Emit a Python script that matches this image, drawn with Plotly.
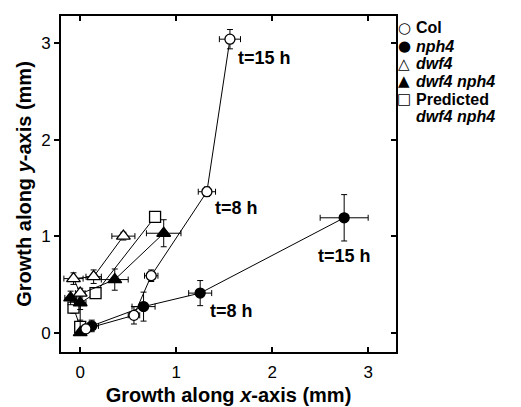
import plotly.graph_objects as go

# ---- data (mm) ----
col_x = [0.06, 0.56, 0.74, 1.32, 1.56]
col_y = [0.04, 0.18, 0.59, 1.46, 3.04]
col_ex = [0.05, 0.06, 0.07, 0.09, 0.11]
col_ey = [0.04, 0.09, 0.06, 0.05, 0.10]

nph4_x = [0.12, 0.66, 1.25, 2.75]
nph4_y = [0.07, 0.27, 0.41, 1.19]
nph4_ex = [0.07, 0.12, 0.12, 0.25]
nph4_ey = [0.06, 0.15, 0.13, 0.24]

dwf4_x = [0.00, -0.07, 0.14, 0.45]
dwf4_y = [0.41, 0.56, 0.58, 1.00]
dwf4_ex = [0.05, 0.10, 0.08, 0.12]
dwf4_ey = [0.05, 0.06, 0.07, 0.04]

dn_x = [0.00, 0.00, -0.10, 0.36, 0.87]
dn_y = [0.00, 0.31, 0.36, 0.55, 1.03]
dn_ex = [0.03, 0.06, 0.06, 0.14, 0.18]
dn_ey = [0.02, 0.07, 0.07, 0.11, 0.14]

pred_x = [0.00, -0.07, 0.16, 0.78]
pred_y = [0.06, 0.26, 0.41, 1.20]
pred_ex = [0.03, 0.04, 0.05, 0.04]
pred_ey = [0.07, 0.06, 0.05, 0.03]

x_ticks = [0, 1, 2, 3]
y_ticks = [0, 1, 2, 3]

labels = [  # (text, x, y)
    ("t=15 h", 1.62, 2.85),
    ("t=8 h", 1.38, 1.29),
    ("t=8 h", 1.33, 0.22),
    ("t=15 h", 2.46, 0.79),
]

legend_items = [("○", "Col"), ("●", "<i>nph4</i>"), ("△", "<i>dwf4</i>"),
                ("▲", "<i>dwf4 nph4</i>"), ("□", "Predicted"), ("", "<i>dwf4 nph4</i>")]

FONT = "Arial, Liberation Sans, sans-serif"
W, H = 521, 407
ML, MR, MT, MB = 61, 125, 16, 55

fig = go.Figure()

def add_series(x, y, ex, ey, symbol, fill, size):
    fig.add_trace(go.Scatter(
        x=x, y=y, mode="lines+markers",
        line=dict(color="black", width=1),
        marker=dict(symbol=symbol, size=size, color=fill,
                    line=dict(color="black", width=1.3)),
        error_x=dict(type="data", array=ex, color="black", thickness=1, width=3),
        error_y=dict(type="data", array=ey, color="black", thickness=1, width=3),
        showlegend=False, cliponaxis=False))

add_series(pred_x, pred_y, pred_ex, pred_ey, "square", "white", 11)
add_series(dn_x, dn_y, dn_ex, dn_ey, "triangle-up", "black", 12)
add_series(dwf4_x, dwf4_y, dwf4_ex, dwf4_ey, "triangle-up", "white", 12)
add_series(nph4_x, nph4_y, nph4_ex, nph4_ey, "circle", "black", 10)
add_series(col_x, col_y, col_ex, col_ey, "circle", "white", 10)

# dummy trace to make the right-side axis render
fig.add_trace(go.Scatter(x=[None], y=[None], yaxis="y2", showlegend=False))

for text, x, y in labels:
    fig.add_annotation(x=x, y=y, text=f"<b>{text}</b>", showarrow=False,
                       xanchor="left", yanchor="middle",
                       font=dict(family=FONT, size=18, color="black"))

pw = W - ML - MR
ph = H - MT - MB
row_y = [28, 46, 64, 81, 99, 116]
for (sym, txt), ry in zip(legend_items, row_y):
    yp = 1 - (ry - MT) / ph
    if sym:
        fig.add_annotation(xref="paper", yref="paper", x=(404 - ML) / pw, y=yp,
                           text=sym, showarrow=False, xanchor="center", yanchor="middle",
                           borderpad=0,
                           font=dict(family="DejaVu Sans", size=15, color="black"))
    fig.add_annotation(xref="paper", yref="paper", x=(415 - ML) / pw, y=yp,
                       text=f"<b>{txt}</b>", showarrow=False, xanchor="left", yanchor="middle",
                       borderpad=0,
                       font=dict(family=FONT, size=16, color="black"))

axis_common = dict(showgrid=False, zeroline=False, showline=True, linecolor="black",
                   linewidth=2, ticklen=5, tickwidth=1.5, tickcolor="black",
                   automargin=False,
                   tickfont=dict(family=FONT, size=17, color="black"))

fig.update_layout(
    width=W, height=H, margin=dict(l=ML, r=MR, t=MT, b=MB),
    paper_bgcolor="white", plot_bgcolor="white",
    font=dict(family=FONT, color="black"),
    xaxis=dict(range=[-0.2, 3.29], tickvals=x_ticks, ticks="inside", mirror="ticks",
               title=dict(text="<b>Growth along <i>x</i>-axis (mm)</b>",
                          font=dict(family=FONT, size=20), standoff=7),
               ticklabelstandoff=4, **axis_common),
    yaxis=dict(range=[-0.2, 3.28], tickvals=y_ticks, ticks="outside",
               title=dict(text="<b>Growth along <i>y</i>-axis (mm)</b>",
                          font=dict(family=FONT, size=20), standoff=4),
               **axis_common),
    yaxis2=dict(range=[-0.2, 3.28], tickvals=y_ticks, ticks="inside", side="right",
                overlaying="y", showticklabels=False, **axis_common),
)

fig.write_html("out.html")
